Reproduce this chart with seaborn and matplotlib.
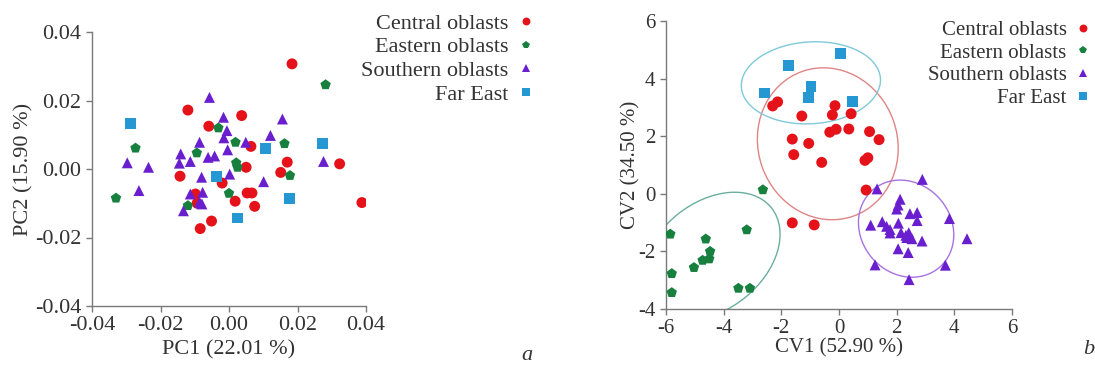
import numpy as np
import pandas as pd
import matplotlib
matplotlib.use("Agg")
import matplotlib.pyplot as plt
import seaborn as sns
from matplotlib.patches import Ellipse

groups = ["Central oblasts", "Eastern oblasts", "Southern oblasts", "Far East"]
point_colors = ["#e5121a", "#17803f", "#6a1fcf", "#2597d2"]
point_markers = ["o", "p", "^", "s"]
ellipse_colors = ["#e08585", "#6aae9f", "#a872e2", "#80c9da"]

# ---- Panel a: PCA ----
pc_central_x = [0.0184, -0.0120, 0.0037, -0.0059, 0.0064, 0.0050, 0.0170, 0.0323, 0.0151, -0.0143,
                -0.0020, -0.0098, -0.0093, 0.0018, 0.0053, 0.0067, 0.0075, -0.0051, -0.0084, 0.0388]
pc_central_y = [0.0307, 0.0172, 0.0156, 0.0125, 0.0066, 0.0005, 0.0020, 0.0015, -0.0010, -0.0021,
                -0.0041, -0.0073, -0.0100, -0.0094, -0.0070, -0.0070, -0.0109, -0.0152, -0.0174, -0.0098]
pc_eastern_x = [0.0282, -0.0273, -0.0330, -0.0031, -0.0094, 0.0019, 0.0162, 0.0021, 0.0025, 0.0178, 0.0000, -0.0120]
pc_eastern_y = [0.0246, 0.0061, -0.0085, 0.0120, 0.0047, 0.0078, 0.0074, 0.0018, 0.0005, -0.0019, -0.0071, -0.0107]
pc_southern_x = [-0.0057, -0.0016, 0.0156, -0.0006, -0.0015, 0.0121, -0.0086, 0.0049, -0.0004, -0.0141,
                 -0.0145, -0.0113, -0.0061, -0.0042, -0.0297, -0.0235, 0.0276, -0.0080, 0.0002, 0.0101,
                 -0.0263, -0.0077, -0.0113, -0.0086, -0.0079, -0.0133]
pc_southern_y = [0.0209, 0.0151, 0.0146, 0.0112, 0.0091, 0.0098, 0.0078, 0.0078, 0.0056, 0.0044,
                 0.0017, 0.0022, 0.0034, 0.0038, 0.0018, 0.0005, 0.0022, -0.0024, -0.0015, -0.0037,
                 -0.0063, -0.0068, -0.0073, -0.0097, -0.0102, -0.0122]
pc_fareast_x = [-0.0287, 0.0106, 0.0274, -0.0037, 0.0177, 0.0026]
pc_fareast_y = [0.0133, 0.0059, 0.0075, -0.0021, -0.0085, -0.0143]

# ---- Panel b: CVA ----
cv_central_x = [-2.30, -2.13, -1.29, -0.14, -0.23, 0.42, -0.32, -0.10, 0.34, 1.06,
                1.39, -1.62, -1.05, -1.57, -0.60, 0.90, 1.00, 0.94, -1.62, -0.86]
cv_central_y = [3.05, 3.19, 2.70, 3.06, 2.74, 2.78, 2.14, 2.24, 2.25, 2.16,
                1.88, 1.90, 1.75, 1.36, 1.09, 1.16, 1.25, 0.13, -1.01, -1.08]
cv_eastern_x = [-2.64, -5.85, -4.62, -3.20, -4.47, -4.73, -4.50, -5.03, -5.80, -5.80, -3.49, -3.09]
cv_eastern_y = [0.14, -1.40, -1.57, -1.25, -2.00, -2.31, -2.26, -2.56, -2.77, -3.43, -3.28, -3.28]
cv_southern_x = [2.89, 1.32, 2.12, 2.05, 2.00, 2.46, 2.71, 2.71, 3.83, 1.10, 1.50, 1.65, 1.77, 1.77,
                 2.06, 2.15, 2.32, 2.42, 2.53, 2.35, 2.88, 4.44, 2.05, 2.40, 1.25, 3.69, 2.43]
cv_southern_y = [0.50, 0.17, -0.19, -0.39, -0.53, -0.69, -0.65, -0.93, -0.86, -1.09, -0.97, -1.13, -1.24, -1.36,
                 -1.02, -1.35, -1.44, -1.35, -1.56, -1.52, -1.64, -1.56, -1.91, -2.04, -2.47, -2.48, -2.98]
cv_fareast_x = [-2.59, -1.75, -0.97, -1.05, 0.05, 0.46]
cv_fareast_y = [3.50, 4.47, 3.74, 3.33, 4.86, 3.22]

pc_ticks = [-0.04, -0.02, 0.00, 0.02, 0.04]
cv_xticks = [-6, -4, -2, 0, 2, 4, 6]
cv_yticks = [-4, -2, 0, 2, 4, 6]


def make_df(xs, ys):
    frames = []
    for g, x, y in zip(groups, xs, ys):
        frames.append(pd.DataFrame({"x": x, "y": y, "group": g}))
    return pd.concat(frames, ignore_index=True)


df_pc = make_df([pc_central_x, pc_eastern_x, pc_southern_x, pc_fareast_x],
                [pc_central_y, pc_eastern_y, pc_southern_y, pc_fareast_y])
df_cv = make_df([cv_central_x, cv_eastern_x, cv_southern_x, cv_fareast_x],
                [cv_central_y, cv_eastern_y, cv_southern_y, cv_fareast_y])

sns.set_style("ticks")
plt.rcParams["font.family"] = ["Liberation Serif", "DejaVu Serif"]
plt.rcParams["axes.unicode_minus"] = False

text_color = "#333333"
spine_color = "#7a7a7a"

fig = plt.figure(figsize=(10.95, 3.66), dpi=100)
ax1 = fig.add_axes([92 / 1095, 1 - 306 / 366, 274 / 1095, 274 / 366])
ax2 = fig.add_axes([666 / 1095, 1 - 309 / 366, 346 / 1095, 288 / 366])

palette = dict(zip(groups, point_colors))
mk = dict(zip(groups, point_markers))


def confidence_ellipse(ax, x, y, color, k=2.146):
    x = np.asarray(x)
    y = np.asarray(y)
    cov = np.cov(x, y)
    vals, vecs = np.linalg.eigh(cov)
    order = vals.argsort()[::-1]
    vals, vecs = vals[order], vecs[:, order]
    angle = np.degrees(np.arctan2(vecs[1, 0], vecs[0, 0]))
    w, h = 2 * k * np.sqrt(vals)
    ax.add_patch(Ellipse((x.mean(), y.mean()), w, h, angle=angle, fill=False,
                         edgecolor=color, lw=1.0, zorder=1))


def style_axes(ax, fs, xticks, yticks, fmt):
    for s in ["top", "right"]:
        ax.spines[s].set_visible(False)
    for s in ["left", "bottom"]:
        ax.spines[s].set_color(spine_color)
        ax.spines[s].set_linewidth(1.0)
    ax.set_xticks(xticks)
    ax.set_yticks(yticks)
    ax.set_xticklabels([fmt.format(v) for v in xticks])
    ax.set_yticklabels([fmt.format(v) for v in yticks])
    ax.tick_params(axis="both", direction="out", length=4, width=1.0, color=spine_color,
                   labelsize=fs, labelcolor=text_color, pad=3.5)
    ax.set_xlim(xticks[0], xticks[-1])
    ax.set_ylim(yticks[0], yticks[-1])


# Panel a
sns.scatterplot(data=df_pc, x="x", y="y", hue="group", style="group", palette=palette,
                markers=mk, s=62, edgecolor="none", linewidth=0, ax=ax1, zorder=3)
style_axes(ax1, 16, pc_ticks, pc_ticks, "{:.2f}")
ax1.set_xlabel("PC1 (22.01 %)", fontsize=16, color=text_color)
ax1.set_ylabel("PC2 (15.90 %)", fontsize=16, color=text_color)
ax1.xaxis.set_label_coords(0.5, -0.125)
ax1.yaxis.set_label_coords(-0.212, 0.5)
h, l = ax1.get_legend_handles_labels()
ax1.legend(h, l, markerfirst=False, frameon=False, fontsize=16, labelcolor=text_color,
           markerscale=0.72, handletextpad=0.4, labelspacing=0.14, borderpad=0,
           loc="upper right", bbox_to_anchor=(546 / 1095, 1 - 2 / 366),
           bbox_transform=fig.transFigure, handlelength=0.8)

# Panel b
for g, x, y, c in zip(groups, [cv_central_x, cv_eastern_x, cv_southern_x, cv_fareast_x],
                      [cv_central_y, cv_eastern_y, cv_southern_y, cv_fareast_y], ellipse_colors):
    confidence_ellipse(ax2, x, y, c)
sns.scatterplot(data=df_cv, x="x", y="y", hue="group", style="group", palette=palette,
                markers=mk, s=62, edgecolor="none", linewidth=0, ax=ax2, zorder=3)
style_axes(ax2, 15, cv_xticks, cv_yticks, "{:d}")
ax2.set_xlabel("CV1 (52.90 %)", fontsize=15, color=text_color)
ax2.set_ylabel("CV2 (34.50 %)", fontsize=15, color=text_color)
ax2.xaxis.set_label_coords(0.5, -0.1)
ax2.yaxis.set_label_coords(-0.075, 0.5)
h, l = ax2.get_legend_handles_labels()
ax2.legend(h, l, markerfirst=False, frameon=False, fontsize=15, labelcolor=text_color,
           markerscale=0.72, handletextpad=0.4, labelspacing=0.15, borderpad=0,
           loc="upper right", bbox_to_anchor=(1102 / 1095, 1 - 10 / 366),
           bbox_transform=fig.transFigure, handlelength=0.8)

fig.text(527 / 1095, 1 - 355 / 366, "a", fontsize=16, style="italic", color=text_color,
         ha="center", va="center")
fig.text(1089 / 1095, 1 - 350 / 366, "b", fontsize=16, style="italic", color=text_color,
         ha="center", va="center")

fig.savefig("out.png", dpi=100, facecolor="white")
